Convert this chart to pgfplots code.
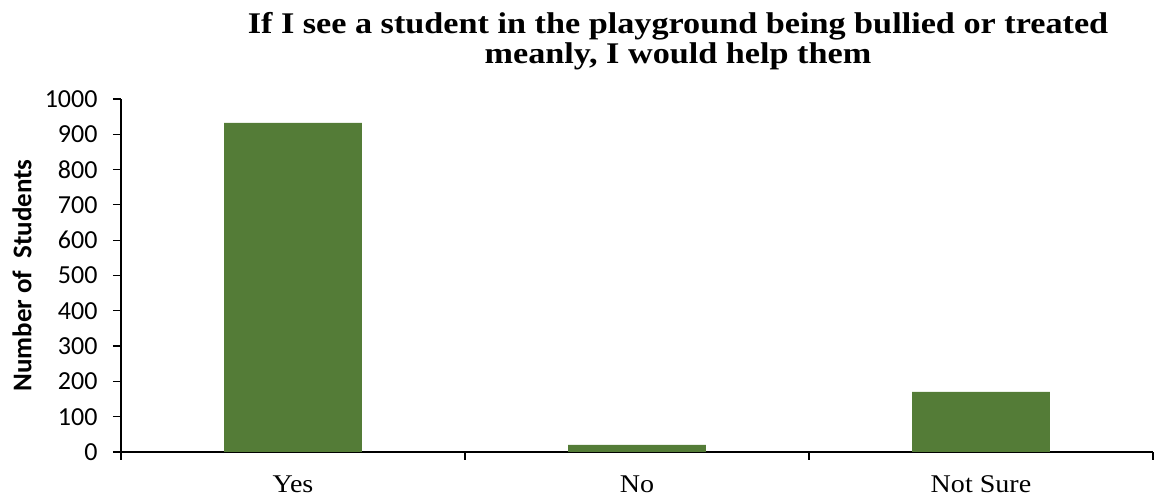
\documentclass[border=0pt]{standalone}
\usepackage{fontspec}
\setmainfont{Liberation Serif}
\newfontfamily\calibri{Carlito}
\newfontfamily\titlefont[FakeStretch=1.14]{Liberation Serif}
\newfontfamily\xlabfont[FakeStretch=1.1]{Liberation Serif}
\usepackage{pgfplots}
\pgfplotsset{compat=1.18}
\definecolor{bargreen}{RGB}{84,124,55}
\begin{document}
\begin{tikzpicture}[x=1pt,y=1pt]
\useasboundingbox (0,0) rectangle (1154,500);
\begin{axis}[
  at={(121pt,48pt)}, anchor=south west,
  scale only axis, width=1032pt, height=353pt,
  xmin=0, xmax=3, ymin=0, ymax=1000,
  axis x line*=bottom, axis y line*=left,
  axis line style={line width=1.2pt, -},
  xtick={0,1,2,3}, xticklabels={},
  extra x ticks={0.5,1.5,2.5},
  extra x tick labels={Yes,No,Not Sure},
  extra x tick style={major tick length=0pt, tick style={draw=none}},
  ytick={0,100,...,1000},
  tick align=outside, major tick length=8pt,
  tick style={black, line width=1.2pt},
  xticklabel style={font=\xlabfont\fontsize{25.5}{30}\selectfont, yshift=-20pt},
  yticklabel style={font=\calibri\fontsize{26}{30}\selectfont, xshift=-12pt},
  /pgf/number format/assume math mode=true,
  /pgf/number format/1000 sep={},
  ylabel={Number of\ \ Students},
  every axis y label/.style={at={([xshift=-99pt]axis description cs:0,0.5)}, rotate=90, anchor=center,
    font=\calibri\bfseries\fontsize{27}{30}\selectfont},
  clip=false,
]
\addplot[ybar, bar width=0.4, fill=bargreen, draw=none] coordinates {
  (0.5,932) (1.5,20) (2.5,170)
};
\end{axis}
\node[font=\titlefont\bfseries\fontsize{30}{30}\selectfont, anchor=base] at (678,466)
  {If I see a student in the playground being bullied or treated};
\node[font=\titlefont\bfseries\fontsize{30}{30}\selectfont, anchor=base] at (678,436)
  {meanly, I would help them};
\end{tikzpicture}
\end{document}
